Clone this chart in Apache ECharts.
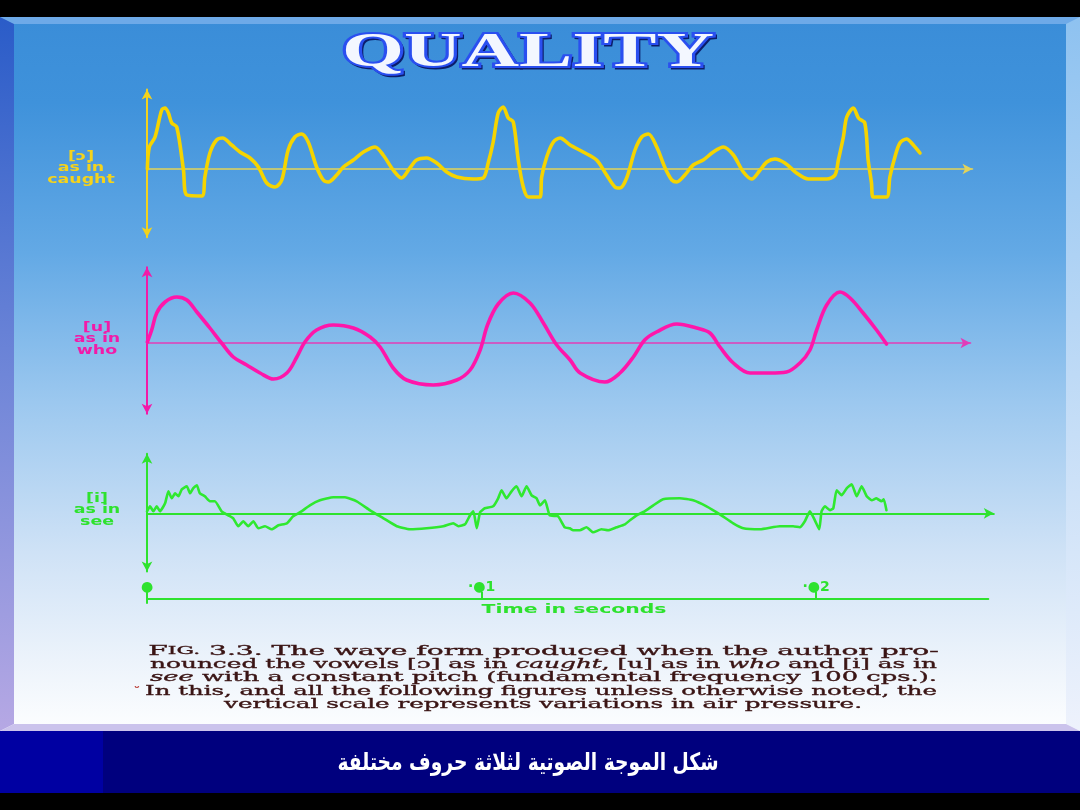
<!DOCTYPE html>
<html><head><meta charset="utf-8">
<script src="https://cdn.jsdelivr.net/npm/echarts@6/dist/echarts.min.js"></script>
<style>html,body{margin:0;padding:0;background:#000}#c{width:1080px;height:810px}</style>
</head><body><div id="c"></div>
<script>
// ---- data (time in ms, amplitude in arbitrary pressure units) ----
const yellowT = [0.01,0.07,0.24,0.44,0.54,0.64,0.74,0.89,1.09,1.19,1.64,1.73,1.88,2.08,2.26,2.53,2.78,3.08,3.33,3.58,3.83,4.03,4.22,4.42,4.62,4.82,5.07,5.27,5.42,5.67,5.87,6.17,6.47,6.82,7.06,7.36,7.61,7.86,8.06,8.36,8.66,8.96,9.26,9.75,10.05,10.2,10.35,10.5,10.65,10.8,10.95,11.1,11.25,11.4,11.75,11.8,11.95,12.15,12.35,12.65,13.04,13.44,13.74,13.99,14.14,14.34,14.59,14.79,14.99,15.24,15.49,15.69,15.84,16.08,16.33,16.63,16.93,17.23,17.53,17.83,18.08,18.33,18.53,18.77,19.07,19.42,19.77,20.32,20.57,20.67,20.82,20.92,21.12,21.27,21.46,21.56,21.66,21.71,22.11,22.21,22.36,22.51,22.71,22.91,23.11];
const yellowV = [0,2.2,3.2,5.9,6.1,5.6,4.6,4.2,-0.1,-2.6,-2.7,-0.8,1.6,2.9,3.1,2.4,1.7,1.1,0.2,-1.4,-1.8,-1.1,1.9,3.2,3.5,2.7,0.2,-1.1,-1.3,-0.6,0.2,0.9,1.7,2.2,1.4,-0.1,-0.9,0.1,0.9,1.1,0.6,-0.3,-0.8,-1.0,-0.9,0.6,2.7,5.6,6.2,5.1,4.7,0.9,-1.8,-2.8,-2.8,-0.8,1.2,2.7,3.1,2.4,1.7,0.9,-0.6,-1.8,-1.9,-0.9,1.9,3.2,3.5,2.2,0.1,-1.1,-1.3,-0.6,0.4,0.9,1.7,2.2,1.4,-0.3,-1.0,-0.1,0.7,1.0,0.6,-0.4,-1.0,-1.0,-0.6,0.9,3.2,5.2,6.1,5.1,4.6,0.9,-1.4,-2.8,-2.8,-0.8,1.2,2.6,3.0,2.4,1.6];

const magentaT = [0.01,0.14,0.29,0.54,0.89,1.19,1.49,1.88,2.23,2.58,2.98,3.38,3.78,4.18,4.48,4.72,5.07,5.57,6.17,6.67,6.97,7.36,7.76,8.56,9.26,9.66,9.96,10.18,10.5,10.95,11.45,11.85,12.25,12.65,12.95,13.69,14.14,14.54,14.88,15.23,15.84,16.43,16.83,17.13,17.53,18.03,18.62,19.12,19.52,19.82,20.02,20.32,20.72,21.02,21.41,21.81,22.11];
const magentaV = [0.1,1.3,3.0,4.1,4.6,4.3,3.1,1.5,0,-1.4,-2.2,-3.0,-3.6,-3.0,-1.4,0.1,1.3,1.8,1.5,0.6,-0.4,-2.5,-3.7,-4.2,-3.7,-2.7,-0.7,1.8,3.9,5.0,4.0,2.0,-0.2,-1.7,-3.0,-3.9,-3.0,-1.4,0.3,1.1,1.9,1.5,1.0,-0.4,-2.0,-3.0,-3.0,-2.9,-2.0,-0.7,1.3,3.8,5.1,4.5,3.0,1.3,-0.1];

const greenT = [0,0.09,0.19,0.29,0.39,0.54,0.64,0.74,0.84,0.94,1.04,1.19,1.29,1.38,1.49,1.58,1.73,1.88,2.03,2.23,2.43,2.58,2.73,2.88,3.03,3.18,3.33,3.53,3.73,3.93,4.18,4.37,4.62,4.87,5.17,5.57,5.92,6.27,6.67,7.07,7.47,7.86,8.36,8.86,9.16,9.31,9.51,9.66,9.76,9.86,9.96,10.1,10.35,10.5,10.6,10.75,10.9,11.05,11.2,11.35,11.5,11.65,11.75,11.9,12.04,12.29,12.49,12.64,12.74,12.94,13.14,13.34,13.59,13.79,14.04,14.29,14.44,14.64,14.88,15.14,15.43,15.93,16.33,16.73,17.13,17.53,17.83,18.33,18.92,19.32,19.52,19.67,19.82,19.97,20.1,20.17,20.27,20.42,20.52,20.62,20.77,20.92,21.07,21.22,21.37,21.52,21.67,21.81,21.96,22.03,22.11];
const greenV = [0.2,0.7,0.2,0.7,0.2,1.0,2.2,1.5,2.0,1.7,2.4,2.7,2.0,2.5,2.8,2.0,1.7,1.2,1.2,0.2,-0.2,-0.5,-1.3,-0.8,-1.3,-0.8,-1.5,-1.3,-1.6,-1.2,-1.0,-0.3,0.2,0.8,1.3,1.6,1.6,1.2,0.3,-0.5,-1.3,-1.6,-1.5,-1.3,-1.0,-1.3,-1.1,-0.2,0.2,-1.5,0.1,0.5,0.7,1.5,2.3,1.5,2.2,2.7,1.7,2.7,1.8,1.5,0.8,1.3,-0.2,-0.3,-1.4,-1.5,-1.7,-1.7,-1.4,-1.9,-1.6,-1.7,-1.4,-1.1,-0.7,-0.2,0.2,0.8,1.4,1.5,1.3,0.7,-0.1,-1.0,-1.5,-1.6,-1.3,-1.3,-1.4,-0.8,0.2,-0.7,-1.6,0.2,0.7,0.3,0.5,2.3,1.8,2.5,2.9,1.7,2.7,1.7,1.3,1.5,1.2,1.4,0.3];

const timeTicks = [0, 10, 20];
const timeTickLabels = ['\u25CF', '\u00B7\u25CF1', '\u00B7\u25CF2'];
const timeAxisName = 'Time in seconds';

const vowelLabels = ['[\u0254]\nas in\ncaught', '[u]\nas in\nwho', '[i]\nas in\nsee'];
const titleText = 'QUALITY';
const captionLines = [
  'F{s|IG.} 3.3. The wave form produced when the author pro-',
  'nounced the vowels [\u0254] as in {i|caught}, [u] as in {i|who} and [i] as in',
  '{i|see} with a constant pitch (fundamental frequency 100 cps.).',
  'In this, and all the following figures unless otherwise noted, the',
  'vertical scale represents variations in air pressure.'
];
const arabicText = 'شكل الموجة الصوتية لثلاثة حروف مختلفة';

// ---- helpers ----
const zip = (t, v) => t.map((x, i) => [x, v[i]]);
const mctx = document.createElement('canvas').getContext('2d');
function fitScale(text, font, w) {
  mctx.font = font;
  const plain = text.replace(/\{[a-z]+\|([^}]*)\}/g, '$1');
  return w / mctx.measureText(plain).width;
}

const YEL = '#f4d31c', MAG = '#f21aa8', GRN = '#2ee22e';

const grids = [
  {left: 147, top: 89.5, width: 825.5, height: 147.7},
  {left: 147, top: 267.2, width: 823.5, height: 146.6},
  {left: 147, top: 453.8, width: 846.8, height: 117.7},
  {left: 147, top: 599, width: 841.3, height: 4}
];
const xMax = [24.68, 24.62, 25.32, 25.15];
const yRange = [[-6.82, 7.95], [-7.08, 7.58], [-5.82, 5.95], [0, 1]];
const axisColor = [[YEL, '#e2d35a', 1.6], [MAG, '#e23cb8', 1.6], [GRN, GRN, 2]];

const xAxes = [], yAxes = [];
for (let i = 0; i < 3; i++) {
  xAxes.push({type: 'value', gridIndex: i, min: 0, max: xMax[i],
    axisLine: {show: true, onZero: true, symbol: ['none', 'arrow'], symbolSize: [8, 10],
      lineStyle: {color: axisColor[i][1], width: axisColor[i][2]}},
    axisTick: {show: false}, axisLabel: {show: false}, splitLine: {show: false}});
  yAxes.push({type: 'value', gridIndex: i, min: yRange[i][0], max: yRange[i][1],
    axisLine: {show: true, onZero: true, symbol: ['arrow', 'arrow'], symbolSize: [8, 10],
      lineStyle: {color: axisColor[i][0], width: 2}},
    axisTick: {show: false}, axisLabel: {show: false}, splitLine: {show: false}});
}
xAxes.push({type: 'value', gridIndex: 3, min: 0, max: xMax[3], position: 'top',
  axisLine: {show: true, onZero: false, lineStyle: {color: GRN, width: 2}},
  axisTick: {show: true, customValues: timeTicks, length: 7, inside: false, lineStyle: {color: GRN, width: 2}},
  axisLabel: {show: true, customValues: timeTicks, margin: 5, color: GRN, fontWeight: 'bold', fontSize: 14,
    fontFamily: 'DejaVu Sans', formatter: v => { const k = timeTicks.indexOf(v); return k >= 0 ? timeTickLabels[k] : ''; }},
  splitLine: {show: false}});
yAxes.push({type: 'value', gridIndex: 3, min: 0, max: 1,
  axisLine: {show: true, onZero: false, lineStyle: {color: GRN, width: 2}},
  axisTick: {show: false}, axisLabel: {show: false}, splitLine: {show: false}});

const lineSeries = (idx, data, color, width, smooth) => ({
  type: 'line', xAxisIndex: idx, yAxisIndex: idx, data, showSymbol: false, symbol: 'none',
  smooth, silent: true, lineStyle: {color, width, cap: 'round', join: 'round'}, z: 5
});

// ---- decoration / text ----
const G = echarts.graphic;
const panelGrad = new G.LinearGradient(0, 0, 0, 1, [
  {offset: 0, color: '#3a8dd8'}, {offset: 0.12, color: '#3f92db'}, {offset: 0.33, color: '#63a9e5'},
  {offset: 0.54, color: '#9cc8ef'}, {offset: 0.75, color: '#cfe2f6'}, {offset: 0.9, color: '#ecf3fb'},
  {offset: 1, color: '#fdfeff'}]);
const leftGrad = new G.LinearGradient(0, 0, 0, 1, [
  {offset: 0, color: '#2a5cc8'}, {offset: 0.5, color: '#6f86d8'}, {offset: 1, color: '#b6a8e4'}]);
const rightGrad = new G.LinearGradient(0, 0, 0, 1, [
  {offset: 0, color: '#8ec2f0'}, {offset: 1, color: '#eef2fc'}]);

const titleFont = 'bold 49px "Liberation Serif"';
const titleScale = fitScale(titleText, titleFont, 372);
const tStyle = (extra) => Object.assign({text: titleText, font: titleFont, textAlign: 'center', textVerticalAlign: 'middle', align: 'center', verticalAlign: 'middle'}, extra);

const labelFont = 'bold 12px "DejaVu Sans"';
const vowelPos = [[81, 168, YEL], [97, 339, MAG], [97, 510, GRN]];

const capFont = '13.5px "DejaVu Serif"';
const capColor = '#3a1414';
const capRich = {
  s: {fontSize: 10.5, fontFamily: 'DejaVu Serif', fill: capColor, stroke: capColor, lineWidth: 0.35},
  i: {fontStyle: 'italic', fontFamily: 'DejaVu Serif', fontSize: 13.5, fill: capColor, stroke: capColor, lineWidth: 0.35}
};
const capY = [651, 664.5, 677.5, 691, 704.5];
const capW = [787, 787, 787, 792, 638];
const capX = [543.5, 543.5, 543.5, 541, 543];

const graphics = [
  {type: 'rect', z: -20, shape: {x: 0, y: 0, width: 1080, height: 810}, style: {fill: '#000'}},
  {type: 'rect', z: -19, shape: {x: 0, y: 17, width: 1080, height: 714}, style: {fill: panelGrad}},
  {type: 'rect', z: -18, shape: {x: 0, y: 17, width: 1080, height: 7}, style: {fill: '#6eaae8'}},
  {type: 'polygon', z: -17, shape: {points: [[0, 17], [14, 24], [14, 724], [0, 731]]}, style: {fill: leftGrad}},
  {type: 'polygon', z: -17, shape: {points: [[1080, 17], [1066, 24], [1066, 724], [1080, 731]]}, style: {fill: rightGrad}},
  {type: 'polygon', z: -17, shape: {points: [[0, 731], [14, 724], [1066, 724], [1080, 731]]}, style: {fill: '#cbc3ec'}},
  {type: 'rect', z: -16, shape: {x: 0, y: 731, width: 1080, height: 62}, style: {fill: '#00007e'}},
  {type: 'rect', z: -15, shape: {x: 0, y: 731, width: 103, height: 62}, style: {fill: '#0000a2'}},
  // title: shadow, blue outline, white face
  {type: 'text', z: 100, x: 530, y: 55.5, scaleX: titleScale, style: tStyle({fill: '#0b1d6a', stroke: '#0b1d6a', lineWidth: 3})},
  {type: 'text', z: 101, x: 528, y: 53.5, scaleX: titleScale, style: tStyle({fill: '#2a4ff0', stroke: '#2a4ff0', lineWidth: 4})},
  {type: 'text', z: 102, x: 528, y: 53.5, scaleX: titleScale, style: tStyle({fill: '#f3f7ff'})},
  // time axis name
  {type: 'text', z: 100, x: 574, y: 610, scaleX: fitScale(timeAxisName, 'bold 13px "DejaVu Sans"', 185),
    style: {text: timeAxisName, font: 'bold 13px "DejaVu Sans"', fill: GRN, textAlign: 'center', textVerticalAlign: 'middle', align: 'center', verticalAlign: 'middle'}},
  // arabic caption
  {type: 'text', z: 100, x: 528, y: 764, scaleX: fitScale(arabicText, 'bold 24px "DejaVu Sans"', 381),
    style: {text: arabicText, font: 'bold 24px "DejaVu Sans"', fill: '#ffffff', textAlign: 'center', textVerticalAlign: 'middle', align: 'center', verticalAlign: 'middle'}}
];
vowelLabels.forEach((t, i) => {
  graphics.push({type: 'text', z: 100, x: vowelPos[i][0], y: vowelPos[i][1], scaleX: 1.45,
    style: {text: t, font: labelFont, fill: vowelPos[i][2], lineHeight: 11.5,
      textAlign: 'center', textVerticalAlign: 'middle', align: 'center', verticalAlign: 'middle'}});
});
captionLines.forEach((t, i) => {
  const plainForMeasure = t.replace('F{s|IG.}', 'FIG.');
  graphics.push({type: 'text', z: 100, x: capX[i], y: capY[i], scaleX: fitScale(plainForMeasure, capFont, capW[i]) * (i === 0 ? 1.016 : 1),
    style: {text: t, font: capFont, fill: capColor, stroke: capColor, lineWidth: 0.35, rich: capRich,
      textAlign: 'center', textVerticalAlign: 'middle', align: 'center', verticalAlign: 'middle'}});
});
graphics.push({type: 'text', z: 100, x: 137, y: 689, style: {text: '\u1D55', font: 'bold 12px "DejaVu Sans"', fill: '#c0504a', textAlign: 'center', textVerticalAlign: 'middle', align: 'center', verticalAlign: 'middle'}});

const chart = echarts.init(document.getElementById('c'), null, {renderer: 'canvas', width: 1080, height: 810});
chart.setOption({
  animation: false,
  backgroundColor: '#000',
  grid: grids,
  xAxis: xAxes,
  yAxis: yAxes,
  graphic: {elements: graphics},
  series: [
    lineSeries(0, zip(yellowT, yellowV), '#f5d400', 3.6, 0.3),
    lineSeries(1, zip(magentaT, magentaV), '#ff16aa', 3.6, 0.35),
    lineSeries(2, zip(greenT, greenV), '#2fe82f', 2.6, 0.15)
  ]
});
</script>
</body></html>
